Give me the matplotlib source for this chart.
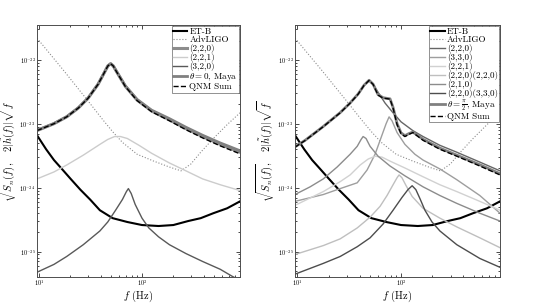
import matplotlib
matplotlib.use("Agg")
import matplotlib.pyplot as plt

plt.rcParams['font.family'] = 'serif'
plt.rcParams['font.serif'] = ['cmr10', 'DejaVu Serif']
plt.rcParams['mathtext.fontset'] = 'cm'
plt.rcParams['axes.formatter.use_mathtext'] = True

# detector noise curves (shared by both panels)
f_etb = [9.5, 11.66, 13.9, 16.6, 20.2, 25.1, 31.3, 38.9, 51.8, 72, 100, 145, 202, 281, 373, 495, 674, 900]
h_etb = [6.6e-24, 3.98e-24, 2.7e-24, 1.96e-24, 1.37e-24, 9.3e-25, 6.5e-25, 4.43e-25, 3.33e-25,
         2.9e-25, 2.6e-25, 2.51e-25, 2.6e-25, 3.0e-25, 3.33e-25, 3.98e-25, 4.75e-25, 6.1e-25]

f_aligo = [9.5, 17.3, 29.9, 41.6, 51.8, 64.5, 89.6, 130, 185, 240, 299, 373, 495, 674, 900]
h_aligo = [2.18e-22, 6.77e-23, 2.26e-23, 1.15e-23, 7.5e-24, 5.1e-24, 3.33e-24, 2.6e-24, 2.1e-24,
           1.83e-24, 2.34e-24, 3.58e-24, 5.87e-24, 9.66e-24, 1.48e-23]

# left panel: theta = 0
fL_220 = [9.5, 13.9, 18.5, 24.0, 29.9, 37.3, 43.5, 46.5, 49.5, 52.5, 56.5, 68.8, 89.6, 124, 185, 268, 389, 578, 900]
hL_220 = [7.8e-24, 1.0e-23, 1.28e-23, 1.76e-23, 2.51e-23, 4.12e-23, 6.53e-23, 8.0e-23, 8.68e-23, 8.0e-23,
          6.53e-23, 3.85e-23, 2.34e-23, 1.58e-23, 1.15e-23, 8.38e-24, 6.3e-24, 4.75e-24, 3.58e-24]
hL_maya = [7.9e-24, 1.01e-23, 1.29e-23, 1.78e-23, 2.54e-23, 4.15e-23, 6.56e-23, 8.05e-23, 8.7e-23, 8.05e-23,
           6.6e-23, 3.92e-23, 2.4e-23, 1.63e-23, 1.2e-23, 8.8e-24, 6.6e-24, 5.0e-24, 3.78e-24]
hL_sum = [7.8e-24, 1.0e-23, 1.28e-23, 1.76e-23, 2.51e-23, 4.12e-23, 6.53e-23, 8.0e-23, 8.68e-23, 8.0e-23,
          6.5e-23, 3.82e-23, 2.3e-23, 1.54e-23, 1.11e-23, 8.05e-24, 6.0e-24, 4.5e-24, 3.38e-24]

fL_221 = [9.5, 13.9, 18.5, 26.8, 38.9, 46.4, 54.1, 61.7, 72, 93.6, 124, 185, 268, 389, 578, 900]
hL_221 = [1.37e-24, 1.76e-24, 2.26e-24, 3.22e-24, 4.75e-24, 5.67e-24, 6.3e-24, 6.3e-24, 5.87e-24, 4.59e-24,
          3.45e-24, 2.43e-24, 1.83e-24, 1.37e-24, 1.11e-24, 9.0e-25]

fL_320 = [9.5, 13.9, 18.5, 26.8, 38.9, 46.4, 55.3, 64.5, 70.5, 73.7, 78.5, 85.8, 100, 116.6, 145, 185, 268,
          389, 578, 752, 900]
hL_320 = [4.75e-26, 6.3e-26, 8.38e-26, 1.28e-25, 2.1e-25, 2.9e-25, 4.43e-25, 6.53e-25, 8.67e-25, 9.66e-25,
          8.1e-25, 5.47e-25, 3.33e-25, 2.34e-25, 1.7e-25, 1.28e-25, 9.3e-26, 7.0e-26, 5.28e-26, 4.12e-26, 3.55e-26]

# right panel: theta = pi/2
fR_sum = [9.5, 11.9, 17.8, 25.9, 32.3, 38.6, 44.0, 49.2, 53.8, 60.1, 67.2, 78.3, 83.8, 91.6, 100, 109, 119,
          130, 146, 163, 237, 345, 575, 900]
hR_sum = [4.3e-24, 5.47e-24, 9.0e-24, 1.48e-23, 2.1e-23, 2.9e-23, 3.98e-23, 4.75e-23, 4.12e-23, 2.8e-23,
          2.51e-23, 2.43e-23, 1.76e-23, 9.66e-24, 7.0e-24, 6.3e-24, 6.8e-24, 7.27e-24, 6.3e-24, 5.5e-24,
          3.98e-24, 3.1e-24, 2.18e-24, 1.58e-24]
hR_maya = [4.35e-24, 5.5e-24, 9.05e-24, 1.49e-23, 2.11e-23, 2.92e-23, 4.0e-23, 4.78e-23, 4.15e-23, 2.85e-23,
           2.55e-23, 2.45e-23, 1.8e-23, 1.0e-23, 7.2e-24, 6.5e-24, 7.0e-24, 7.4e-24, 6.5e-24, 5.7e-24,
           4.15e-24, 3.22e-24, 2.28e-24, 1.65e-24]

fR_220 = [9.5, 11.9, 17.8, 25.9, 32.3, 38.6, 44.0, 49.2, 53.8, 60.1, 70.2, 83.8, 100, 130, 163, 237, 345, 575, 900]
hR_220 = [4.3e-24, 5.47e-24, 9.0e-24, 1.48e-23, 2.1e-23, 2.9e-23, 3.98e-23, 4.75e-23, 4.12e-23, 3.1e-23,
          2.1e-23, 1.48e-23, 1.07e-23, 7.8e-24, 6.3e-24, 4.59e-24, 3.58e-24, 2.51e-24, 1.83e-24]

fR_330 = [9.5, 17.8, 25.9, 37.8, 47.1, 56.2, 64.3, 71.8, 76.7, 81.9, 91.6, 109, 136, 163, 237, 345, 575, 900]
hR_330 = [6.1e-25, 7.8e-25, 9.66e-25, 1.19e-24, 1.89e-24, 3.33e-24, 6.1e-24, 1.0e-23, 1.28e-23, 1.11e-23,
          7.27e-24, 4.75e-24, 3.33e-24, 2.7e-24, 1.96e-24, 1.33e-24, 7.53e-25, 3.98e-25]

fR_221 = [9.5, 17.8, 25.9, 32.3, 40.4, 48.2, 56.2, 65.6, 78.3, 109, 163, 237, 345, 575, 900]
hR_221 = [5.28e-25, 8.67e-25, 1.24e-24, 1.58e-24, 2.26e-24, 2.8e-24, 3.1e-24, 3.0e-24, 2.6e-24, 2.03e-24,
          1.48e-24, 1.11e-24, 8.67e-25, 6.1e-25, 4.43e-25]

fR_220x220 = [9.5, 17.8, 25.9, 37.8, 50.3, 62.8, 73.3, 83.8, 91.6, 95.7, 102, 112, 128, 163, 237, 345, 575, 900]
hR_220x220 = [9.0e-26, 1.24e-25, 1.58e-25, 2.34e-25, 3.45e-25, 5.1e-25, 7.53e-25, 1.11e-24, 1.43e-24, 1.58e-24,
              1.43e-24, 1.07e-24, 7.28e-25, 4.75e-25, 3.33e-25, 2.43e-25, 1.64e-25, 1.15e-25]

fR_210 = [9.5, 13.3, 17.8, 24.2, 32.3, 37.8, 41.2, 43.1, 46.0, 50.3, 60.1, 78.3, 109, 163, 237, 345, 575, 900]
hR_210 = [7.8e-25, 1.03e-24, 1.37e-24, 2.1e-24, 3.33e-24, 4.43e-24, 5.67e-24, 6.3e-24, 5.87e-24, 4.43e-24,
          3.1e-24, 2.18e-24, 1.53e-24, 1.03e-24, 7.53e-25, 5.67e-25, 3.98e-25, 3.0e-25]

fR_220x330 = [9.5, 17.8, 25.9, 37.8, 50.3, 67.2, 83.8, 102, 116.6, 128, 139, 152, 170, 199, 237, 345, 575, 900]
hR_220x330 = [4.43e-26, 6.53e-26, 8.38e-26, 1.19e-25, 1.64e-25, 2.7e-25, 4.43e-25, 7.0e-25, 9.3e-25, 1.07e-24,
              9.3e-25, 6.77e-25, 4.43e-25, 2.9e-25, 2.1e-25, 1.28e-25, 7.8e-26, 5.67e-26]

ylab = r'$\sqrt{S_n(f)},\quad 2|\tilde{h}(f)|\sqrt{f}$'

fig = plt.figure(figsize=(5.34, 3.04), dpi=100)
axL = fig.add_axes([37/534, 27/304, 203/534, 252/304])
axR = fig.add_axes([295/534, 27/304, 205/534, 252/304])

# left panel
axL.loglog(f_etb, h_etb, color='black', lw=1.5, label='ET-B')
axL.loglog(f_aligo, h_aligo, color='0.55', lw=0.8, ls=':', label='AdvLIGO')
axL.loglog(fL_220, hL_220, color='0.55', lw=2.2, label='(2,2,0)')
axL.loglog(fL_221, hL_221, color='0.8', lw=1.0, label='(2,2,1)')
axL.loglog(fL_320, hL_320, color='0.35', lw=1.0, label='(3,2,0)')
axL.loglog(fL_220, hL_maya, color='0.5', lw=2.0, label=r'$\theta = 0$, Maya')
axL.loglog(fL_220, hL_sum, color='black', lw=1.0, ls='--', label='QNM Sum')

# right panel
axR.loglog(f_etb, h_etb, color='black', lw=1.5, label='ET-B')
axR.loglog(f_aligo, h_aligo, color='0.55', lw=0.8, ls=':', label='AdvLIGO')
axR.loglog(fR_220, hR_220, color='0.4', lw=1.0, label='(2,2,0)')
axR.loglog(fR_330, hR_330, color='0.62', lw=1.0, label='(3,3,0)')
axR.loglog(fR_221, hR_221, color='0.82', lw=1.0, label='(2,2,1)')
axR.loglog(fR_220x220, hR_220x220, color='0.75', lw=1.0, label='(2,2,0)(2,2,0)')
axR.loglog(fR_210, hR_210, color='0.55', lw=1.0, label='(2,1,0)')
axR.loglog(fR_220x330, hR_220x330, color='0.3', lw=1.0, label='(2,2,0)(3,3,0)')
axR.loglog(fR_sum, hR_maya, color='0.5', lw=2.0, label=r'$\theta = \frac{\pi}{2}$, Maya')
axR.loglog(fR_sum, hR_sum, color='black', lw=1.0, ls='--', label='QNM Sum')

for ax in (axL, axR):
    ax.set_xlim(9.5, 900)
    ax.set_ylim(4e-26, 3.5e-22)
    ax.set_yticks([1e-25, 1e-24, 1e-23, 1e-22])
    ax.set_xticks([10, 100])
    ax.tick_params(which='both', direction='in', top=True, right=True, labelsize=4.5, width=0.5, pad=1)
    ax.tick_params(which='major', length=3)
    ax.tick_params(which='minor', length=1.5)
    for s in ax.spines.values():
        s.set_linewidth(0.7)
        s.set_color('0.3')
    ax.set_xlabel(r'$f$ (Hz)', fontsize=7.5)
    ax.set_ylabel(ylab, fontsize=7.5)
    leg = ax.legend(loc='upper right', fontsize=6.5, labelspacing=0.0, handlelength=1.6,
                    handletextpad=0.2, borderpad=0.15, borderaxespad=0.1, fancybox=False,
                    framealpha=1)
    leg.get_frame().set_linewidth(0.5)
    leg.get_frame().set_edgecolor('0.4')

# place axis labels just outside the tick labels
fig.canvas.draw()
r = fig.canvas.get_renderer()
for ax in (axL, axR):
    bb = ax.get_window_extent(r)
    xt_bottom = min(t.get_window_extent(r).y0 for t in ax.get_xticklabels() if t.get_text())
    yt_left = min(t.get_window_extent(r).x0 for t in ax.get_yticklabels() if t.get_text())
    ax.xaxis.set_label_coords(0.5, (xt_bottom - 0.5 - bb.y0) / bb.height)
    ax.yaxis.set_label_coords((yt_left - 0.5 - bb.x0) / bb.width, 0.5)

fig.savefig('out.png', dpi=100)
